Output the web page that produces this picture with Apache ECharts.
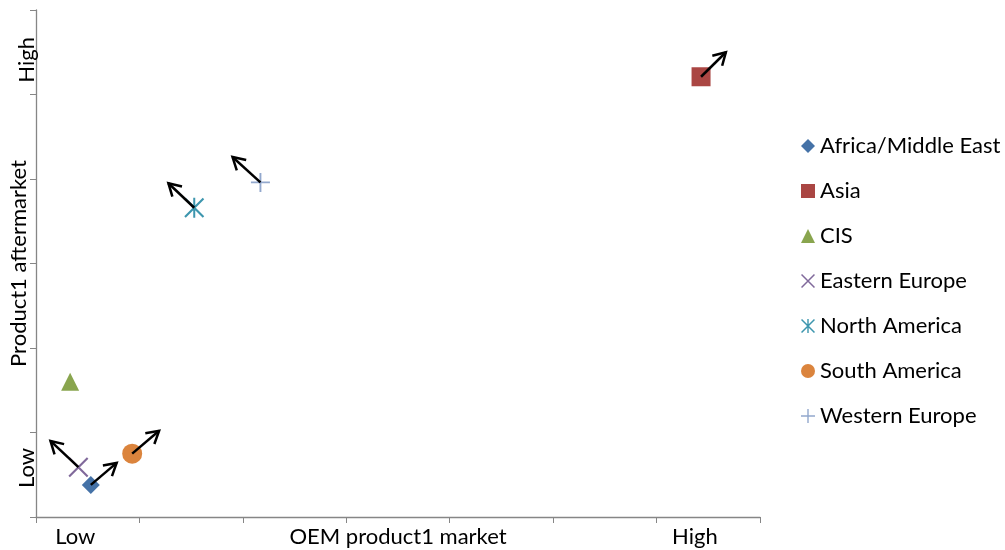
<!DOCTYPE html>
<html>
<head>
<meta charset="utf-8">
<script src="https://cdn.jsdelivr.net/npm/echarts@6/dist/echarts.min.js"></script>
<style>
  html, body { margin: 0; padding: 0; background: #fff; }
  #chart { width: 1005px; height: 550px; }
</style>
</head>
<body>
<div id="chart"></div>
<script>
const regions = ["Africa/Middle East", "Asia", "CIS", "Eastern Europe", "North America", "South America", "Western Europe"];
const xValues = [0.53, 6.43, 0.33, 0.41, 1.53, 0.93, 2.17];
const yValues = [0.38, 5.21, 1.60, 0.59, 3.66, 0.75, 3.96];
// where each arrow points (null = no arrow)
const arrowEndX = [0.78, 6.67, null, 0.14, 1.28, 1.19, 1.90];
const arrowEndY = [0.64, 5.50, null, 0.90, 3.95, 1.02, 4.26];
const xLabelPos = [0.38, 6.37];
const xLabelText = ["Low", "High"];
const yLabelPos = [0.58, 5.41];
const yLabelText = ["Low", "High"];

const colors = ["#4572A7", "#AA4643", "#89A54E", "#80699B", "#3D96AE", "#DB843D", "#92A8CD"];
const crossPath = "path://M0,1.5L1.5,0L20,18.5L18.5,20Z M18.5,0L20,1.5L1.5,20L0,18.5Z";
const starPath = "path://M0,1.5L1.5,0L20,18.5L18.5,20Z M18.5,0L20,1.5L1.5,20L0,18.5Z M9,0H11V20H9Z";
const plusPath = "path://M9,0H11V20H9Z M0,9H20V11H0Z";
const symbols = ["diamond", "rect", "triangle", crossPath, starPath, "circle", plusPath];
const sizes = [18, 19, 18, 20, 20, 20, 19];

const font = "Lato, 'Open Sans', sans-serif";
const fontSize = 22;

function pickLabel(pos, text) {
  return (v) => {
    const i = pos.findIndex((p) => Math.abs(p - v) < 1e-6);
    return i < 0 ? "" : text[i];
  };
}

const chart = echarts.init(document.getElementById("chart"));

const scatterSeries = regions.map((name, i) => ({
  name,
  type: "scatter",
  data: [[xValues[i], yValues[i]]],
  symbol: symbols[i],
  symbolSize: sizes[i],
  itemStyle: { color: colors[i], opacity: 1 },
  z: 2,
}));

const arrowData = [];
regions.forEach((_, i) => {
  if (arrowEndX[i] != null) arrowData.push([xValues[i], yValues[i], arrowEndX[i], arrowEndY[i]]);
});

chart.setOption({
  animation: false,
  textStyle: { fontFamily: font },
  grid: { left: 36, right: 245, top: 10, bottom: 33, outerBoundsMode: "none", containLabel: false },
  xAxis: {
    type: "value",
    min: 0,
    max: 7,
    interval: 1,
    splitLine: { show: false },
    axisLine: { lineStyle: { color: "#868686", width: 1.3 } },
    axisTick: { show: true, length: 6, lineStyle: { color: "#868686" } },
    axisLabel: {
      customValues: xLabelPos,
      formatter: pickLabel(xLabelPos, xLabelText),
      color: "#000",
      fontSize,
      margin: 9,
    },
    name: "OEM product1 market",
    nameLocation: "middle",
    nameGap: 9,
    nameMoveOverlap: false,
    nameTextStyle: { color: "#000", fontSize, verticalAlign: "top" },
  },
  yAxis: {
    type: "value",
    min: 0,
    max: 6,
    interval: 1,
    splitLine: { show: false },
    axisLine: { show: true, lineStyle: { color: "#868686", width: 1.3 } },
    axisTick: { show: true, length: 6, lineStyle: { color: "#868686" } },
    axisLabel: {
      customValues: yLabelPos,
      formatter: pickLabel(yLabelPos, yLabelText),
      rotate: 90,
      color: "#000",
      fontSize,
      margin: -2,
    },
    name: "Product1 aftermarket",
    nameLocation: "middle",
    nameRotate: 90,
    nameGap: 6,
    nameMoveOverlap: false,
    nameTextStyle: { color: "#000", fontSize },
  },
  legend: {
    data: regions,
    orient: "vertical",
    left: 796,
    top: 130,
    itemWidth: 14,
    itemHeight: 14,
    itemGap: 23,
    textStyle: { color: "#000", fontSize, fontFamily: font },
  },
  series: [
    ...scatterSeries,
    {
      type: "custom",
      name: "arrows",
      data: arrowData,
      encode: { x: [0, 2], y: [1, 3] },
      z: 5,
      silent: true,
      renderItem: (params, api) => {
        const p0 = api.coord([api.value(0), api.value(1)]);
        const p1 = api.coord([api.value(2), api.value(3)]);
        const ang = Math.atan2(p1[1] - p0[1], p1[0] - p0[0]);
        const head = 14;
        const spread = Math.PI / 6;
        const a = [p1[0] - head * Math.cos(ang - spread), p1[1] - head * Math.sin(ang - spread)];
        const b = [p1[0] - head * Math.cos(ang + spread), p1[1] - head * Math.sin(ang + spread)];
        const style = { stroke: "#000", lineWidth: 2.5, fill: null };
        return {
          type: "group",
          children: [
            { type: "polyline", shape: { points: [p0, p1] }, style },
            { type: "polyline", shape: { points: [a, p1, b] }, style },
          ],
        };
      },
    },
  ],
});
</script>
</body>
</html>
